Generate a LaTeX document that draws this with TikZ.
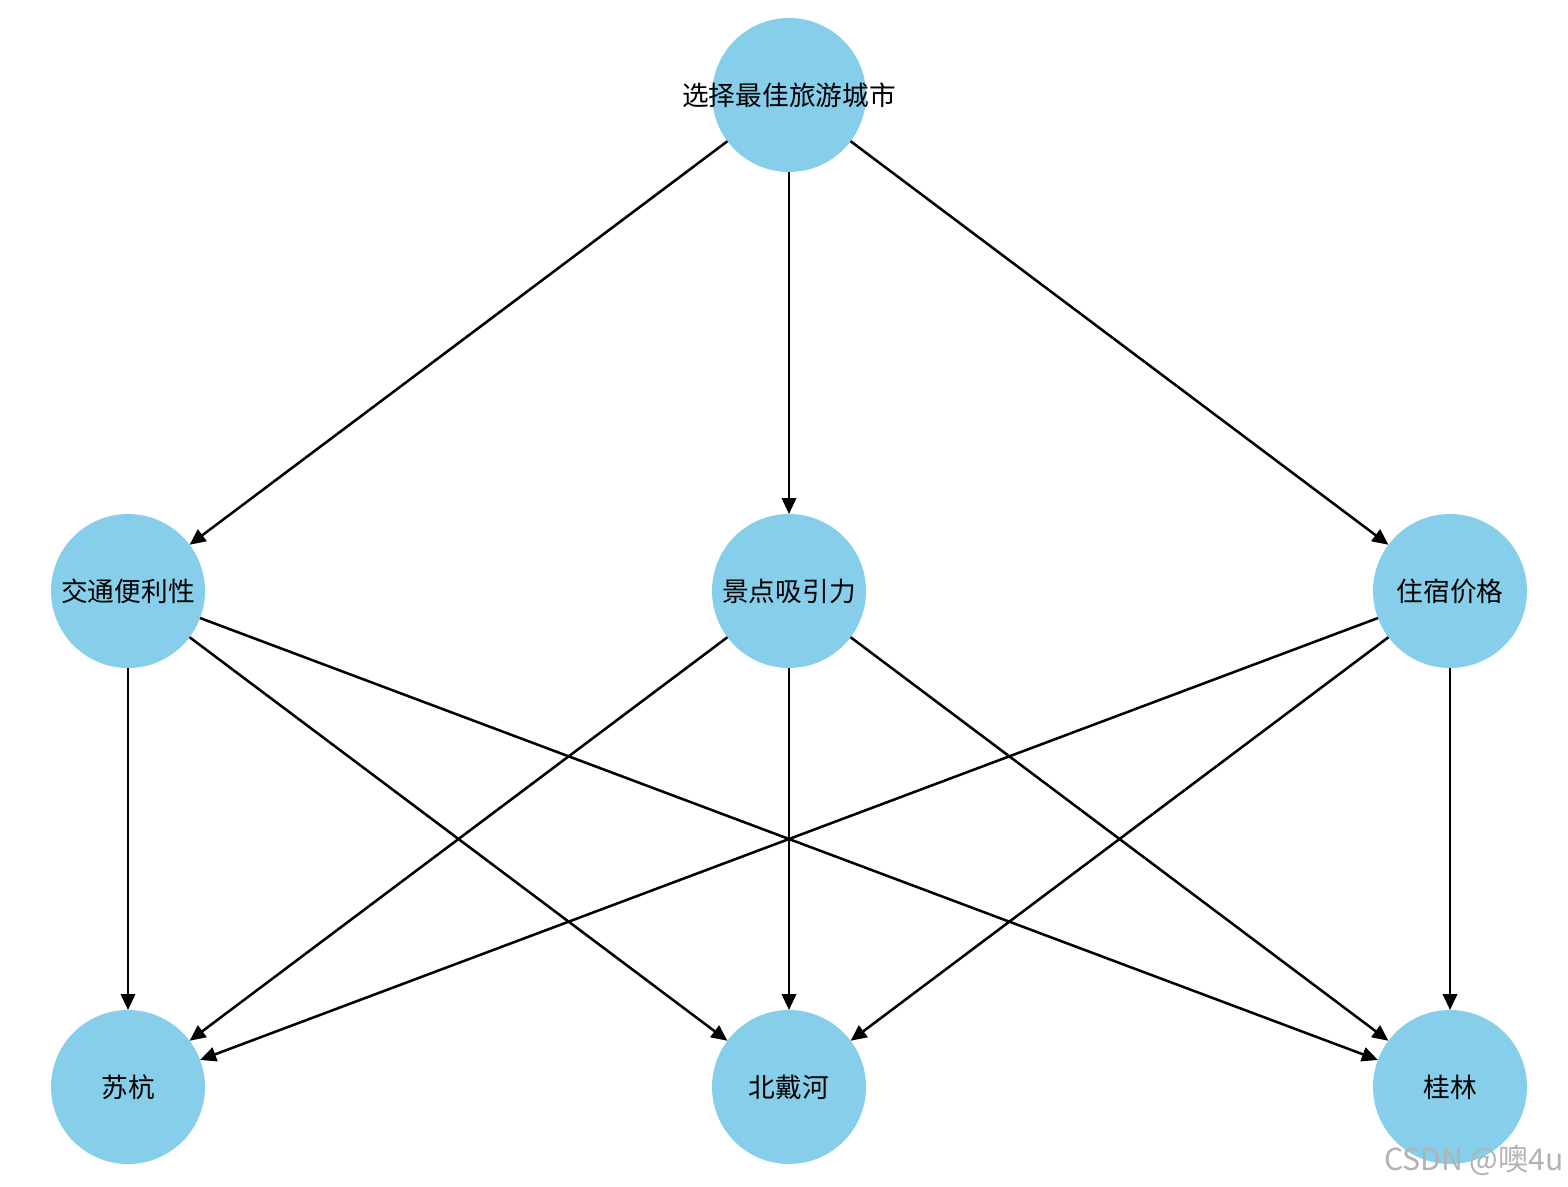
\documentclass[tikz,border=0pt]{standalone}
\usepackage{fontspec}
\setmainfont{Noto Sans CJK SC}
\usepackage{tikz}
\usetikzlibrary{arrows.meta, positioning}

\definecolor{skyblue}{RGB}{135,206,235}

\begin{document}
\begin{tikzpicture}[
    every node/.style={color=black, font=\fontsize{19}{23}\selectfont},
    city/.style={circle, fill=skyblue, minimum size=3.85cm, inner sep=0pt, outer sep=0pt},
    arrow/.style={-{Triangle[length=4mm, width=3.6mm]}, color=black, line width=1.8pt},
    node distance=8.55cm and 12.675cm
]
\useasboundingbox (0,0) rectangle (39.2,-29.675);

% =========================================================
% TOP: goal
% =========================================================
\node[city] (goal) at (19.725,-2.375) {\makebox[0pt][c]{选择最佳旅游城市}};

% =========================================================
% MIDDLE: criteria
% =========================================================
\node[city, below=of goal]     (scenery) {景点吸引力};
\node[city, left=of scenery]   (traffic) {交通便利性};
\node[city, right=of scenery]  (price)   {住宿价格};

% =========================================================
% BOTTOM: alternatives
% =========================================================
\node[city, below=of traffic]  (suhang)    {苏杭};
\node[city, below=of scenery]  (beidaihe)  {北戴河};
\node[city, below=of price]    (guilin)    {桂林};

% =========================================================
% ARROWS
% =========================================================
\foreach \c in {traffic, scenery, price}
    \draw[arrow] (goal) -- (\c);
\foreach \c in {traffic, scenery, price}
    \foreach \a in {suhang, beidaihe, guilin}
        \draw[arrow] (\c) -- (\a);

% watermark
\node[font=\fontsize{21.5}{25}\selectfont, text=black!30] (mark) at (36.85,-29.0) {CSDN @噢4u};

\end{tikzpicture}
\end{document}
